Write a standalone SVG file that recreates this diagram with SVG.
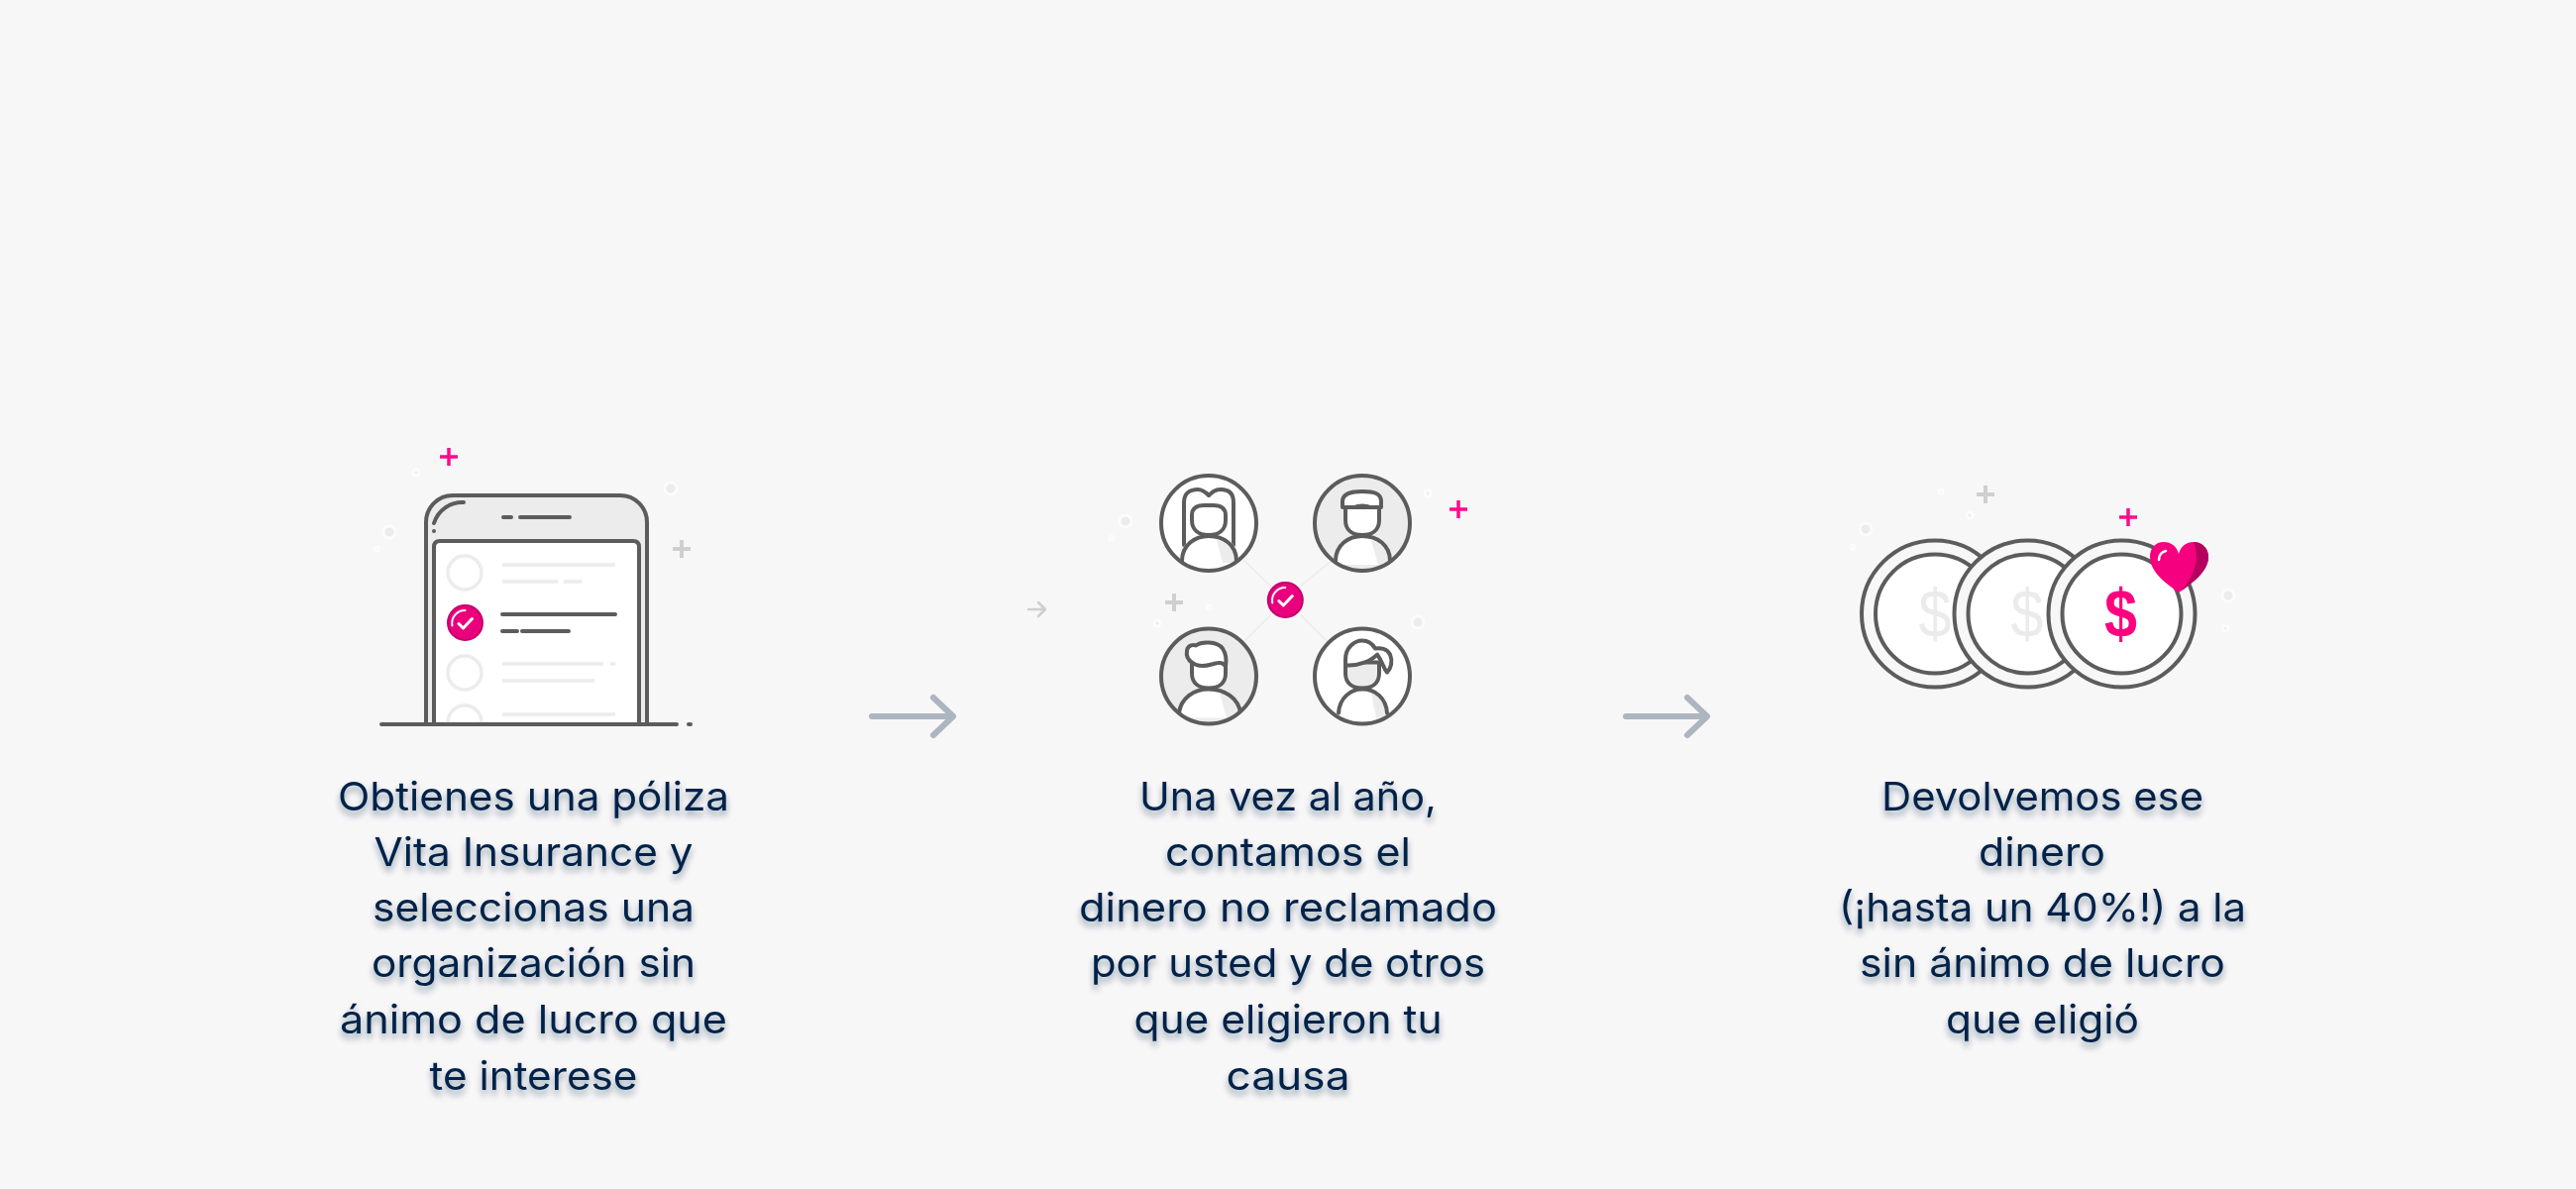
<svg xmlns="http://www.w3.org/2000/svg" xmlns:xlink="http://www.w3.org/1999/xlink" width="2600" height="1200" viewBox="0 0 2600 1200">
<style>
.bg{fill:#f7f7f7}
.ink{fill:none;stroke:#5c5c5c;stroke-width:4;stroke-linecap:round;stroke-linejoin:round}
.pale{fill:none;stroke:#ececec;stroke-width:3.5;stroke-linecap:butt}
.dot{fill:#ececec;stroke:#fcfcfc;stroke-width:3}
.plusg{fill:none;stroke:#cfcfcf;stroke-width:4}
.plusp{fill:none;stroke:#ff0a8c;stroke-width:3.5}
.arrow{fill:none;stroke:#adb5c1;stroke-width:6;stroke-linecap:round;stroke-linejoin:round}
.caption{font-family:"Inter","Noto Sans","Liberation Sans",sans-serif;font-size:40px;fill:#04234a;text-anchor:middle;filter:url(#shadow)}
.coin-g{font-family:"Liberation Sans",sans-serif;font-size:68px;fill:#ebebeb;text-anchor:middle;font-weight:400}
.coin-p{font-family:"Liberation Sans",sans-serif;font-size:68px;fill:#ff007f;text-anchor:middle;font-weight:700}
</style>
<defs>
<filter id="shadow" x="-10%" y="-30%" width="120%" height="170%"><feDropShadow dx="0" dy="5" stdDeviation="3.2" flood-color="#0a2647" flood-opacity="0.42"/></filter>
<clipPath id="cl"><circle r="48"/></clipPath>
<clipPath id="ph"><rect x="430" y="500" width="225" height="230"/></clipPath>
<g id="check">
<circle r="17.5" fill="#ea007c" stroke="#c4006c" stroke-width="2"/>
<path d="M-13 3A13 13 0 0 1 0-12.500" fill="none" stroke="#fff" stroke-width="2" stroke-linecap="round"/>
<path d="M-6.500 1L-2 5.500L7-4" fill="none" stroke="#fff" stroke-width="3" stroke-linecap="round" stroke-linejoin="round"/>
</g>
<path id="pl" d="M-9 0H9M0-9V9"/>
</defs>
<rect class="bg" width="2600" height="1200"/>
<g id="connectors">
<path class="arrow" d="M880 723H960M942 704L962 723L942 742"/>
<path class="arrow" d="M1641 723H1721M1703 704L1723 723L1703 742"/>
</g>
<g id="step-1">
<circle class="dot" cx="420" cy="477" r="3"/><circle class="dot" cx="677" cy="493" r="6"/><circle class="dot" cx="393" cy="537" r="6"/><circle class="dot" cx="380" cy="554" r="2"/>
<use xlink:href="#pl" href="#pl" class="plusg" x="688" y="554"/>
<use xlink:href="#pl" href="#pl" class="plusp" x="453" y="461"/>
<path d="M430 731V527A27 27 0 0 1 457 500H626A27 27 0 0 1 653 527V731Z" class="ink" style="fill:#ececec"/>
<path d="M438 731V552Q438 546 444 546H639Q645 546 645 552V731Z" class="ink" style="fill:#fff"/>
<path class="ink" d="M438 528A30 30 0 0 1 468 507M438 536V536M508 522H516M525 522H575"/>
<g clip-path="url(#ph)">
<circle class="pale" cx="469" cy="578" r="17"/><circle class="pale" cx="469" cy="679" r="17"/><circle class="pale" cx="469" cy="729" r="17"/>
</g>
<path class="pale" d="M507 570H621M507 587H563M569 587H587M507 670H609M616 670H621M507 687H600M507 721H621"/>
<use xlink:href="#check" href="#check" x="469.500" y="628.500"/>
<path class="ink" d="M507 620H621M507 637H522M527 637H574"/>
<path class="ink" d="M385 731H683M695 731H697"/>
<text class="caption" x="538.500" y="818" textLength="395" lengthAdjust="spacingAndGlyphs">Obtienes una póliza</text>
<text class="caption" x="538.500" y="874" textLength="322" lengthAdjust="spacingAndGlyphs">Vita Insurance y</text>
<text class="caption" x="538.500" y="930" textLength="325" lengthAdjust="spacingAndGlyphs">seleccionas una</text>
<text class="caption" x="538.500" y="986" textLength="327" lengthAdjust="spacingAndGlyphs">organización sin</text>
<text class="caption" x="538.500" y="1043" textLength="391" lengthAdjust="spacingAndGlyphs">ánimo de lucro que</text>
<text class="caption" x="538.500" y="1100" textLength="210" lengthAdjust="spacingAndGlyphs">te interese</text>
</g>
<g id="step-2">
<circle class="dot" cx="1136" cy="526" r="6"/><circle class="dot" cx="1122" cy="543" r="2"/><circle class="dot" cx="1441" cy="498" r="3"/><circle class="dot" cx="1220" cy="613" r="2"/><circle class="dot" cx="1168" cy="629" r="3"/><circle class="dot" cx="1431" cy="628" r="6"/>
<use xlink:href="#pl" href="#pl" class="plusg" x="1185" y="608"/>
<use xlink:href="#pl" href="#pl" class="plusp" x="1472" y="514"/>
<path d="M1038 615H1054M1048 608L1055 615L1048 622" fill="none" stroke="#cfcfcf" stroke-width="2.500" stroke-linecap="round" stroke-linejoin="round"/>
<path d="M1255 565L1283 592M1345 565L1312 592M1283 620L1255 648M1312 620L1340 648" fill="none" stroke="#ececec" stroke-width="1.500"/>
<g id="person-1" transform="translate(1220 528)">
<circle r="48" fill="#fff"/>
<g clip-path="url(#cl)">
<path class="ink" style="fill:#fff" d="M-25 22V-21C-25-30-19-34-11-34C-6-34-3-31 0-28C3-31 6-34 12-34C20-34 25-30 25-21V22"/>
<path d="M-27 40V30C-27 20-14 13 0 13C15 13 28 20 28 30V40Z" fill="#fff"/>
<path d="M8 17C20 20 28 28 28 40H14Z" fill="#ececec"/>
<path class="ink" d="M-27 38C-27 22-14 13 0 13C15 13 28 22 28 38"/>
<path class="ink" style="fill:#fff" d="M-17-8C-17-15-12-18-5-18H5C12-18 17-15 17-8V-3C17 7 10 12 0 12C-10 12-17 7-17-3Z"/>
</g>
<circle class="ink" r="48"/>
</g>
<g id="person-2" transform="translate(1375 528)">
<circle r="48" fill="#ececec"/>
<g clip-path="url(#cl)">
<path d="M-27 42V30C-27 20-14 13 0 13C15 13 28 20 28 30V42Z" fill="#fff"/>
<path d="M9 17C20 20 28 28 28 42H16Z" fill="#ececec"/>
<path class="ink" d="M-27 38C-27 22-14 13 0 13C15 13 28 22 28 38"/>
<path class="ink" style="fill:#fff" d="M-17-16V-3C-17 7-10 12 0 12C10 12 17 7 17-3V-16Z"/>
<path class="ink" style="fill:#fff" d="M-20-22C-20-30-12-32 0-32C12-32 19-30 19-22V-16H8C4-18-4-18-8-16H-20Z"/>
</g>
<circle class="ink" r="48"/>
</g>
<g id="person-3" transform="translate(1220 682.500)">
<circle r="48" fill="#ececec"/>
<g clip-path="url(#cl)">
<path d="M-30 42V33C-30 21-15 13 0 13C16 13 32 21 32 33V42Z" fill="#fff"/>
<path d="M11 17C24 20 32 28 32 42H18Z" fill="#ececec"/>
<path class="ink" d="M-30 37C-28 22-15 13 0 13C16 13 30 22 32 37"/>
<path class="ink" style="fill:#fff" d="M-17-14V-3C-17 7-10 12 0 12C10 12 17 7 17-3V-14Z"/>
<path class="ink" style="fill:#fff" d="M-17-14C-20-16-23-20-22-26C-21-32-15-32-13-31C-8-35 8-36 14-28C18-22 18-16 17-10C13-16 8-13 3-12C-4-10-12-10-17-14Z"/>
</g>
<circle class="ink" r="48"/>
</g>
<g id="person-4" transform="translate(1375 682.500)">
<circle r="48" fill="#fff"/>
<g clip-path="url(#cl)">
<path d="M-24 42V33C-24 21-12 13 0 13C13 13 25 21 25 33V42Z" fill="#fff"/>
<path d="M9 17C18 20 25 28 25 42H14Z" fill="#ececec"/>
<path class="ink" d="M-24 37C-23 22-12 13 0 13C13 13 24 22 25 37"/>
<path class="ink" style="fill:#ececec" d="M-17-14V-3C-17 7-10 12 0 12C10 12 17 7 17-3V-14Z"/>
<path class="ink" style="fill:#fff" d="M-17-11V-17C-17-29-8-36 0-36C6-36 10-33 13-28C18-29 25-28 28-22C31-15 29-8 25-4C21-8 21-14 15-22C10-16-4-10-17-11Z"/>
</g>
<circle class="ink" r="48"/>
</g>
<use xlink:href="#check" href="#check" x="1297.300" y="605.500"/>
<text class="caption" x="1300" y="818" textLength="300" lengthAdjust="spacingAndGlyphs">Una vez al año,</text>
<text class="caption" x="1300" y="874" textLength="248" lengthAdjust="spacingAndGlyphs">contamos el</text>
<text class="caption" x="1300" y="930" textLength="422" lengthAdjust="spacingAndGlyphs">dinero no reclamado</text>
<text class="caption" x="1300" y="986" textLength="398" lengthAdjust="spacingAndGlyphs">por usted y de otros</text>
<text class="caption" x="1300" y="1043" textLength="311" lengthAdjust="spacingAndGlyphs">que eligieron tu</text>
<text class="caption" x="1300" y="1100" textLength="125" lengthAdjust="spacingAndGlyphs">causa</text>
</g>
<g id="step-3">
<circle class="dot" cx="1883" cy="534" r="6"/><circle class="dot" cx="1959" cy="496" r="2"/><circle class="dot" cx="1988" cy="520" r="3"/><circle class="dot" cx="1870" cy="552" r="2"/><circle class="dot" cx="2249" cy="601" r="6"/><circle class="dot" cx="2246" cy="634" r="3"/>
<use xlink:href="#pl" href="#pl" class="plusg" x="2004" y="499"/>
<use xlink:href="#pl" href="#pl" class="plusp" x="2148" y="522"/>
<g id="coin-1">
<circle class="ink" style="fill:#f7f7f7" cx="1953" cy="619.500" r="74"/><circle class="ink" style="fill:#fff" cx="1953" cy="619.500" r="60"/>
<text class="coin-g" x="1953" y="643" textLength="33" lengthAdjust="spacingAndGlyphs">$</text>
</g>
<g id="coin-2">
<circle class="ink" style="fill:#f7f7f7" cx="2046.500" cy="619.500" r="74"/><circle class="ink" style="fill:#fff" cx="2046.500" cy="619.500" r="60"/>
<text class="coin-g" x="2046" y="643" textLength="33" lengthAdjust="spacingAndGlyphs">$</text>
</g>
<g id="coin-3">
<circle class="ink" style="fill:#f7f7f7" cx="2141.500" cy="619.500" r="74"/><circle class="ink" style="fill:#fff" cx="2141.500" cy="619.500" r="60"/>
<text class="coin-p" x="2140.500" y="643" textLength="33" lengthAdjust="spacingAndGlyphs">$</text>
</g>
<g id="heart">
<path d="M2199 598C2188 590 2170 578 2170 562C2170 553 2176 547 2184 547C2191 547 2197 551 2199 559C2201 551 2207 547 2214 547C2222 547 2229 553 2229 562C2229 578 2210 590 2199 598Z" fill="#f5007e"/>
<path d="M2214 547C2222 547 2229 553 2229 562C2229 578 2210 590 2201 597C2212 585 2222 565 2214 547Z" fill="#b4005f"/>
<path d="M2179 565C2179 560 2182 557 2186 556" fill="none" stroke="#fff" stroke-width="2.500" stroke-linecap="round"/>
</g>
<text class="caption" x="2061.500" y="818" textLength="325" lengthAdjust="spacingAndGlyphs">Devolvemos ese</text>
<text class="caption" x="2061" y="874" textLength="128" lengthAdjust="spacingAndGlyphs">dinero</text>
<text class="caption" x="2061.500" y="930" textLength="411" lengthAdjust="spacingAndGlyphs">(¡hasta un 40%!) a la</text>
<text class="caption" x="2061.500" y="986" textLength="369" lengthAdjust="spacingAndGlyphs">sin ánimo de lucro</text>
<text class="caption" x="2061.500" y="1043" textLength="195" lengthAdjust="spacingAndGlyphs">que eligió</text>
</g>
</svg>
